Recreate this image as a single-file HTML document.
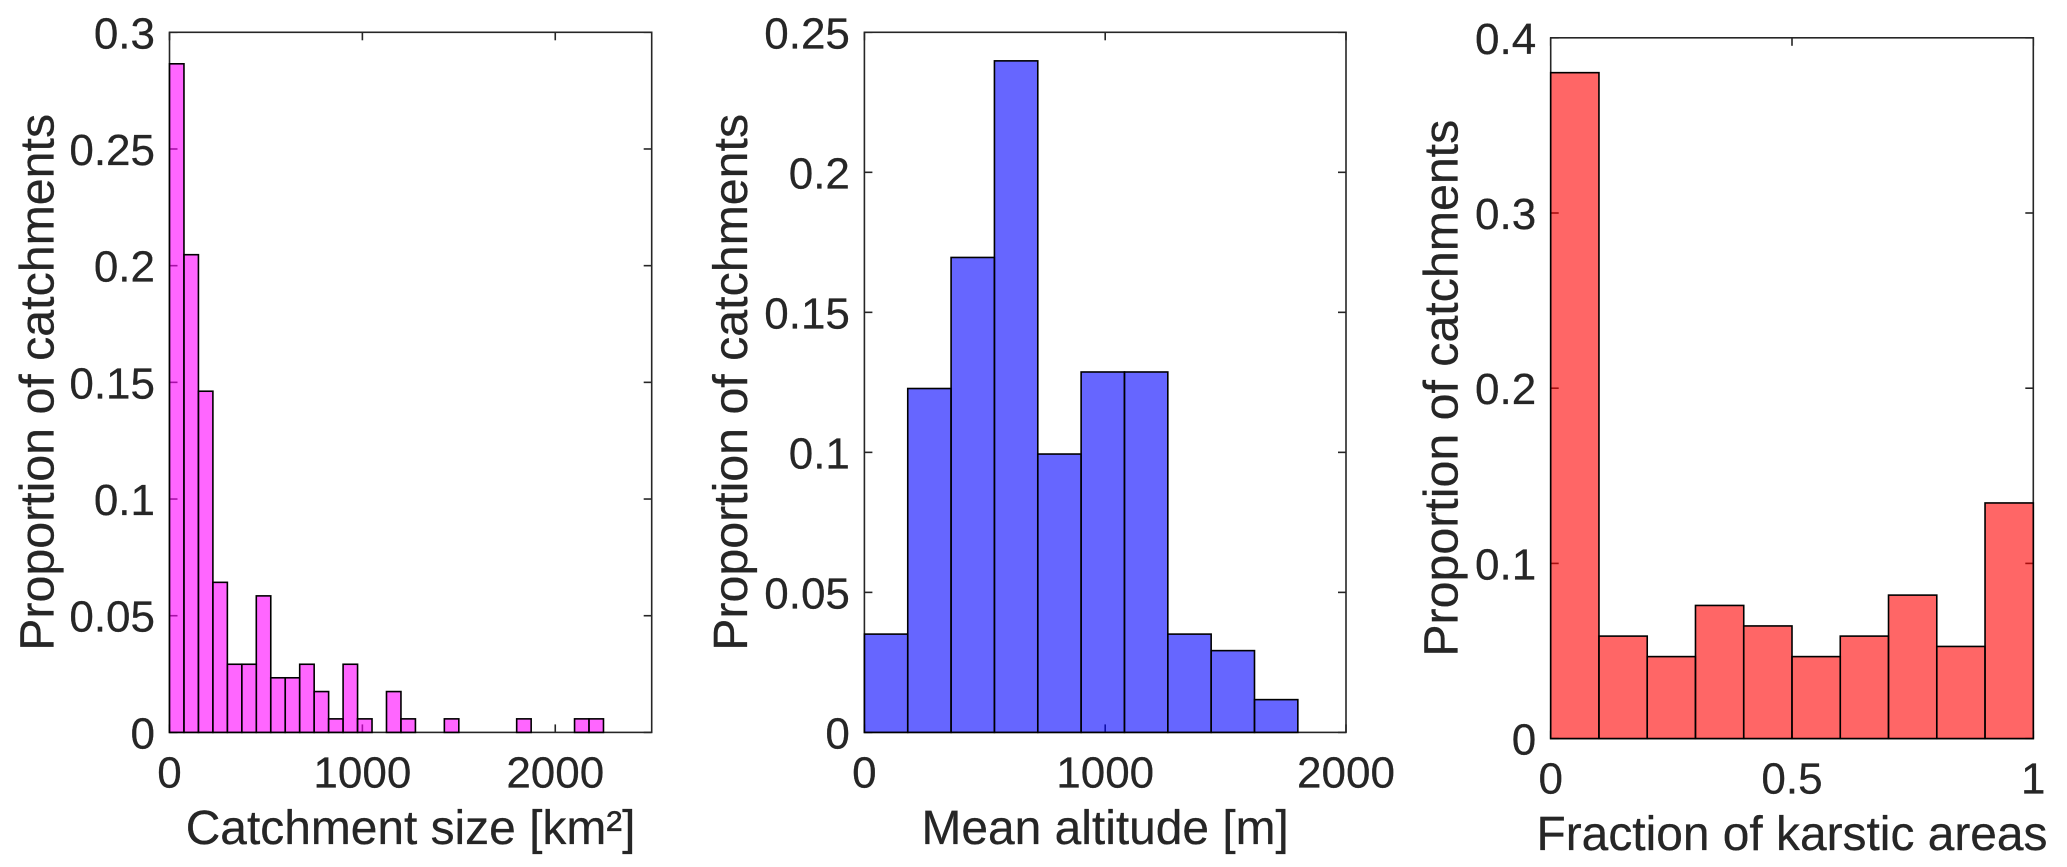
<!DOCTYPE html>
<html lang="en">
<head>
<meta charset="utf-8">
<title>Catchment histograms</title>
<style>
html,body{margin:0;padding:0;background:#fff;width:2067px;height:867px;overflow:hidden}
svg{display:block;filter:blur(0.35px)}
text{font-family:"Liberation Sans",Arial,sans-serif;fill:#262626;stroke:#262626;stroke-width:0.25px}
.tick{font-size:44px}
.xlabel{font-size:47.9px}
.ylabel{font-size:48.3px}
</style>
</head>
<body>
<svg id="figure" xmlns="http://www.w3.org/2000/svg" width="2067" height="867" viewBox="0 0 2067 867"></svg>
<script>
// Panel 1: catchment size
const sizeBinEdgeStart = 0;
const sizeBinWidth = 75;
const sizeValues = [0.2865,0.2047,0.1462,0.0643,0.0292,0.0292,0.0585,0.0234,0.0234,0.0292,0.0175,0.0058,0.0292,0.0058,0,0.0175,0.0058,0,0,0.0058,0,0,0,0,0.0058,0,0,0,0.0058,0.0058];
const sizeXTicks = [0,1000,2000];
const sizeYTicks = [0,0.05,0.1,0.15,0.2,0.25,0.3];
const sizeXDomain = [0,2500];
const sizeYDomain = [0,0.3];

// Panel 2: mean altitude
const altitudeBinEdgeStart = 0;
const altitudeBinWidth = 180;
const altitudeValues = [0.0351,0.1228,0.1696,0.2398,0.0994,0.1287,0.1287,0.0351,0.0292,0.0117];
const altitudeXTicks = [0,1000,2000];
const altitudeYTicks = [0,0.05,0.1,0.15,0.2,0.25];
const altitudeXDomain = [0,2000];
const altitudeYDomain = [0,0.25];

// Panel 3: fraction of karstic areas
const karstBinEdgeStart = 0;
const karstBinWidth = 0.1;
const karstValues = [0.3801,0.0585,0.0468,0.076,0.0643,0.0468,0.0585,0.0819,0.0526,0.1345];
const karstXTicks = [0,0.5,1];
const karstYTicks = [0,0.1,0.2,0.3,0.4];
const karstXDomain = [0,1];
const karstYDomain = [0,0.4];

const NS = 'http://www.w3.org/2000/svg';
const fig = document.getElementById('figure');

function mk(parent, tag, attrs, content) {
  const el = document.createElementNS(NS, tag);
  for (const k in attrs) el.setAttribute(k, attrs[k]);
  if (content !== undefined) el.textContent = content;
  parent.appendChild(el);
  return el;
}

function drawPanel(cfg) {
  const g = mk(fig, 'g', {});
  
  

  const sx = v => cfg.left + (v - cfg.xDomain[0]) / (cfg.xDomain[1] - cfg.xDomain[0]) * (cfg.right - cfg.left);
  const sy = v => cfg.bottom - (v - cfg.yDomain[0]) / (cfg.yDomain[1] - cfg.yDomain[0]) * (cfg.bottom - cfg.top);
  const tickLen = 8;
  const axisStyle = {stroke: '#262626', 'stroke-width': 1.6, fill: 'none'};

  const frame = mk(g, 'rect', Object.assign({x: cfg.left, y: cfg.top, width: cfg.right - cfg.left, height: cfg.bottom - cfg.top}, axisStyle));
  
  

  cfg.xTicks.forEach(t => {
    const x = sx(t);
    const tb = mk(g, 'line', Object.assign({x1: x, x2: x, y1: cfg.bottom, y2: cfg.bottom - tickLen}, axisStyle));
    
    
    const tt = mk(g, 'line', Object.assign({x1: x, x2: x, y1: cfg.top, y2: cfg.top + tickLen}, axisStyle));
    
    
    const lab = mk(g, 'text', {x: x, y: cfg.bottom + 55, 'text-anchor': 'middle', class: 'tick'}, String(t));
    
    
  });

  cfg.yTicks.forEach(t => {
    const y = sy(t);
    const tl = mk(g, 'line', Object.assign({x1: cfg.left, x2: cfg.left + tickLen, y1: y, y2: y}, axisStyle));
    
    
    const tr = mk(g, 'line', Object.assign({x1: cfg.right, x2: cfg.right - tickLen, y1: y, y2: y}, axisStyle));
    
    
    const lab = mk(g, 'text', {x: cfg.left - 14.5, y: y + 16, 'text-anchor': 'end', class: 'tick'}, String(t));
    
    
  });

  cfg.values.forEach((v, i) => {
    const x0 = sx(cfg.binStart + i * cfg.binWidth);
    const x1 = sx(cfg.binStart + (i + 1) * cfg.binWidth);
    const y = sy(v);
    const fill = mk(g, 'rect', {x: x0, y: y, width: x1 - x0, height: cfg.bottom - y, fill: cfg.color, 'fill-opacity': 0.6, stroke: 'none'});
    
    
    const edge = mk(g, 'rect', {x: x0, y: y, width: x1 - x0, height: cfg.bottom - y, fill: 'none', stroke: '#000', 'stroke-width': 1.6});
    
    
  });

  const xl = mk(g, 'text', {x: (cfg.left + cfg.right) / 2, y: cfg.bottom + 111.5, 'text-anchor': 'middle', class: 'xlabel'}, cfg.xTitle);
  
  

  const cy = (cfg.top + cfg.bottom) / 2;
  const yl = mk(g, 'text', {x: 0, y: 0, 'text-anchor': 'middle', class: 'ylabel', transform: 'translate(' + cfg.yTitleX + ' ' + cy + ') rotate(-90)'}, 'Proportion of catchments');
  
  
}

drawPanel({name: 'catchment-size', left: 169.5, right: 651.7, top: 32.3, bottom: 732.4, xDomain: sizeXDomain, yDomain: sizeYDomain, xTicks: sizeXTicks, yTicks: sizeYTicks, values: sizeValues, binStart: sizeBinEdgeStart, binWidth: sizeBinWidth, color: '#ff00ff', xTitle: 'Catchment size [km²]', yTitleX: 53.6});
drawPanel({name: 'mean-altitude', left: 864.4, right: 1346, top: 32.3, bottom: 732.4, xDomain: altitudeXDomain, yDomain: altitudeYDomain, xTicks: altitudeXTicks, yTicks: altitudeYTicks, values: altitudeValues, binStart: altitudeBinEdgeStart, binWidth: altitudeBinWidth, color: '#0000ff', xTitle: 'Mean altitude [m]', yTitleX: 747});
drawPanel({name: 'karstic-fraction', left: 1550.7, right: 2033.3, top: 37.8, bottom: 738.6, xDomain: karstXDomain, yDomain: karstYDomain, xTicks: karstXTicks, yTicks: karstYTicks, values: karstValues, binStart: karstBinEdgeStart, binWidth: karstBinWidth, color: '#ff0000', xTitle: 'Fraction of karstic areas', yTitleX: 1457.4});
</script>
</body>
</html>
